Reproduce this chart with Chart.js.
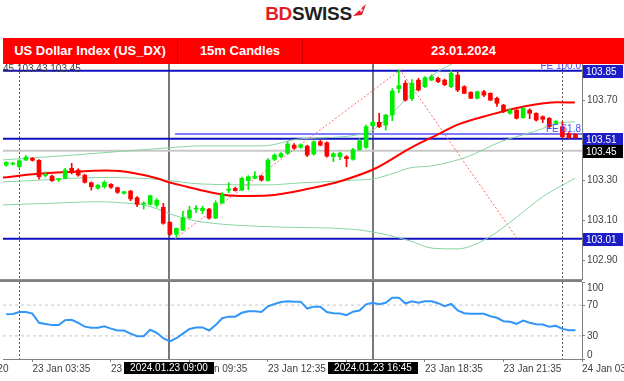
<!DOCTYPE html>
<html>
<head>
<meta charset="utf-8">
<script src="https://cdn.jsdelivr.net/npm/chart.js@4.4.1/dist/chart.umd.min.js"></script>
<style>
body { margin:0; width:624px; height:381px; background:#fff; overflow:hidden; position:relative; font-family:"Liberation Sans", Arial, sans-serif; }
#logo { position:absolute; top:3px; left:4px; width:624px; text-align:center; font-weight:bold; font-size:19px; letter-spacing:-0.3px; line-height:22px; }
#logo .bd { color:#e41e26; }
#logo .sw { color:#231f20; }
#logo svg { vertical-align:top; margin-left:1px; }
#header { position:absolute; left:3px; top:38px; width:621px; height:26px; background:#ff0000; color:#fff; font-weight:bold; font-size:13px; }
#header div { position:absolute; top:0; height:26px; line-height:26px; text-align:center; }
#c1 { left:0; width:174px; border-right:1px solid #d40000; }
#c2 { left:175px; width:124px; border-right:1px solid #d40000; }
#c3 { left:300px; width:321px; }
canvas { position:absolute; left:0; }
#main { top:64px; }
#rsi { top:280px; }
</style>
</head>
<body>
<div id="logo"><span class="bd">BD</span><span class="sw">SWISS</span><svg width="14" height="14" viewBox="0 0 14 14"><polygon points="0,13 13,1 9,12" fill="#e41e26"/><path d="M6 7h4M8 5v4" stroke="#fff" stroke-width="1.2"/></svg></div>
<div id="header">
  <div id="c1">US Dollar Index (US_DX)</div>
  <div id="c2">15m Candles</div>
  <div id="c3">23.01.2024</div>
</div>
<canvas id="main" width="624" height="216"></canvas>
<canvas id="rsi" width="624" height="101"></canvas>
<script>
// 15m candles, index 0 = first candle on the left
const candleOpen = [103.378,103.383,103.370,103.403,103.412,103.402,103.326,103.323,103.305,103.312,
  103.362,103.353,103.328,103.290,103.262,103.270,103.282,103.265,103.237,103.248,
  103.215,103.183,103.182,103.178,103.167,103.092,103.032,103.053,103.115,103.158,
  103.150,103.158,103.113,103.188,103.252,103.262,103.253,103.300,103.312,103.323,
  103.300,103.407,103.420,103.437,103.478,103.467,103.473,103.433,103.495,103.490,
  103.420,103.420,103.420,103.407,103.455,103.467,103.575,103.592,103.578,103.628,
  103.760,103.787,103.710,103.803,103.770,103.803,103.812,103.803,103.770,103.828,
  103.770,103.742,103.712,103.745,103.737,103.712,103.678,103.637,103.653,103.615,
  103.653,103.637,103.620,103.612,103.587,103.570,103.537,103.533];
const candleHigh = [103.395,103.392,103.405,103.425,103.416,103.405,103.345,103.328,103.312,103.362,
  103.387,103.360,103.332,103.294,103.280,103.300,103.286,103.268,103.247,103.252,
  103.220,103.195,103.228,103.210,103.187,103.095,103.064,103.148,103.173,103.175,
  103.172,103.162,103.200,103.240,103.290,103.268,103.318,103.325,103.345,103.328,
  103.410,103.435,103.440,103.495,103.485,103.484,103.478,103.500,103.503,103.494,
  103.440,103.443,103.425,103.462,103.510,103.578,103.600,103.637,103.632,103.760,
  103.853,103.800,103.805,103.812,103.820,103.830,103.818,103.808,103.850,103.845,
  103.775,103.745,103.748,103.752,103.740,103.718,103.682,103.658,103.656,103.666,
  103.660,103.640,103.624,103.616,103.600,103.595,103.540,103.536];
const candleLow = [103.372,103.378,103.365,103.400,103.398,103.308,103.318,103.296,103.295,103.310,
  103.334,103.322,103.288,103.253,103.258,103.262,103.262,103.236,103.233,103.200,
  103.170,103.158,103.178,103.168,103.082,103.025,103.018,103.050,103.110,103.140,
  103.135,103.108,103.110,103.185,103.240,103.248,103.250,103.255,103.310,103.298,
  103.298,103.400,103.415,103.432,103.458,103.462,103.420,103.428,103.474,103.418,
  103.395,103.405,103.370,103.403,103.452,103.462,103.570,103.565,103.553,103.600,
  103.740,103.698,103.700,103.748,103.765,103.800,103.790,103.775,103.765,103.745,
  103.735,103.710,103.708,103.720,103.700,103.672,103.640,103.633,103.608,103.612,
  103.610,103.598,103.590,103.565,103.580,103.515,103.510,103.512];
const candleClose = [103.392,103.386,103.400,103.417,103.402,103.320,103.332,103.300,103.309,103.353,
  103.340,103.328,103.292,103.270,103.278,103.292,103.267,103.242,103.245,103.209,
  103.182,103.188,103.225,103.203,103.087,103.032,103.062,103.115,103.153,103.163,
  103.162,103.113,103.188,103.230,103.258,103.250,103.312,103.320,103.323,103.303,
  103.403,103.428,103.435,103.483,103.462,103.480,103.428,103.495,103.478,103.423,
  103.435,103.438,103.410,103.455,103.500,103.570,103.592,103.570,103.628,103.748,
  103.775,103.703,103.787,103.753,103.815,103.820,103.795,103.780,103.837,103.753,
  103.737,103.712,103.745,103.728,103.703,103.687,103.645,103.653,103.612,103.662,
  103.637,103.603,103.607,103.570,103.598,103.520,103.515,103.515];

// moving average (red) and the three envelope lines (green), read at chosen candle positions
const maIdx = [-0.5,4.1,9.3,15.4,19.4,23.0,25.0,27.6,29.6,33.4,36.5,40.0,46.4,51.3,56.4,61.7,66.3,68.9,73.9,79.0,84.2,86.9];
const maValues = [103.316,103.332,103.343,103.351,103.339,103.312,103.291,103.270,103.254,103.229,103.224,103.226,103.261,103.300,103.361,103.462,103.537,103.579,103.629,103.670,103.692,103.691];
const upperIdx = [-0.5,9.3,24.6,29.6,39.2,44.9,55.1,58.7,61.7,65.2,67.8,70.9,75.5];
const upperValues = [103.404,103.426,103.464,103.474,103.474,103.509,103.539,103.628,103.729,103.829,103.879,103.944,104.000];
const middleIdx = [-0.5,4.1,14.3,19.4,24.0,29.6,39.9,44.9,54.1,56.1,59.4,61.7,65.2,70.4,75.5,80.5,84.6,86.9];
const middleValues = [103.294,103.301,103.316,103.314,103.304,103.284,103.279,103.289,103.304,103.309,103.339,103.364,103.375,103.419,103.494,103.544,103.589,103.594];
const lowerIdx = [-0.5,6.7,14.3,18.5,20.9,23.5,25.5,27.6,29.6,39.9,53.0,58.2,61.7,65.2,68.9,73.5,78.1,82.0,86.9];
const lowerValues = [103.179,103.187,103.195,103.187,103.179,103.154,103.129,103.109,103.095,103.070,103.057,103.029,102.999,102.962,102.959,103.012,103.120,103.220,103.312];

// fibonacci expansion drawing
const fibIdx = [25.8, 60.2, 78.1];
const fibValues = [103.010, 103.853, 103.010];
const fe618Level = 103.533;
const fe618Start = 25.8;

// horizontal levels
const blueLevels = [103.85, 103.51, 103.01];
const bidLevel = 103.45;
const priceTicks = [102.9, 103.1, 103.3, 103.5, 103.7];

// RSI
const rsiValues = [58,58.5,61,61,59,47,45.5,44,44,50.5,
  51,47,42,40.5,40.5,42.5,39.5,37,37,33,
  29.5,29.5,38,34,27,23,27,33,39,41,
  41,37,44,53,55,55,60,62,62,61,
  68.5,71.5,74,75,74.5,74.5,65.5,68,68,61,
  59.5,59,57,61.5,63,71,73,71,73,79.7,
  79.7,72,75,73,75,75,72.5,68.5,71.5,63,
  59.5,58.8,58.8,58.8,55.6,53.5,49.1,48.3,45.7,50,
  47,45.2,44.8,41.8,43.1,39.1,37.3,37.3];
const rsiTicks = [0, 30, 70, 100];
const rsiLevels = [30, 70];

// time axis
const timeTickIdx = [-8.5, 4, 16, 28, 40, 52, 64, 76, 88];
const timeTickLabels = ['23 Jan 00:20', '23 Jan 03:35', '23 Jan 06:35', '23 Jan 09:35', '23 Jan 12:35',
  '23 Jan 15:35', '23 Jan 18:35', '23 Jan 21:35', '24 Jan 03:35'];
const crossIdx = [24.87, 56.06];
const crossLabels = ['2024.01.23 09:00', '2024.01.23 16:45'];
const separatorIdx = [1.95, 84.95];

const xMin = -0.5;
const xMax = 88;
const priceMin = 102.8085;
const priceMax = 103.8835;

const bull = '#00ee00';
const bear = '#ff0000';
const bandColor = '#88d4a2';
const tickFont = '10px "Liberation Sans", Arial, sans-serif';

function pts(idx, vals) {
    return idx.map(function (v, i) { return { x: v, y: vals[i] }; });
}

const bodies = [];
const wicks = [];
const candleColors = [];
for (let i = 0; i < candleOpen.length; i++) {
    bodies.push({ x: i, y: [candleOpen[i], candleClose[i]] });
    wicks.push({ x: i, y: [candleLow[i], candleHigh[i]] });
    candleColors.push(candleClose[i] >= candleOpen[i] ? bull : bear);
}

function levelLine(value, from, color, width, order) {
    return {
        type: 'line',
        data: [{ x: from, y: value }, { x: xMax, y: value }],
        borderColor: color,
        borderWidth: width,
        pointRadius: 0,
        order: order
    };
}

function smoothLine(data, color, width, order) {
    return {
        type: 'line',
        data: data,
        borderColor: color,
        borderWidth: width,
        pointRadius: 0,
        cubicInterpolationMode: 'monotone',
        order: order
    };
}

// vertical lines shared by both panels
const verticalLines = {
    id: 'verticalLines',
    beforeDatasetsDraw: function (chart) {
        const ctx = chart.ctx;
        const x = chart.scales.x;
        const area = chart.chartArea;
        ctx.save();
        ctx.strokeStyle = '#606060';
        ctx.lineWidth = 1;
        ctx.setLineDash([2, 2]);
        separatorIdx.forEach(function (v) {
            const px = Math.round(x.getPixelForValue(v)) + 0.5;
            ctx.beginPath();
            ctx.moveTo(px, area.top);
            ctx.lineTo(px, area.bottom);
            ctx.stroke();
        });
        ctx.setLineDash([]);
        ctx.strokeStyle = '#787878';
        ctx.lineWidth = 2;
        crossIdx.forEach(function (v) {
            const px = Math.round(x.getPixelForValue(v));
            ctx.beginPath();
            ctx.moveTo(px, area.top);
            ctx.lineTo(px, area.bottom);
            ctx.stroke();
        });
        ctx.restore();
    }
};

const priceLabels = {
    id: 'priceLabels',
    afterDraw: function (chart) {
        const ctx = chart.ctx;
        const y = chart.scales.y;
        const area = chart.chartArea;
        ctx.save();
        ctx.font = tickFont;
        ctx.textBaseline = 'alphabetic';
        ctx.fillStyle = '#404040';
        ctx.textAlign = 'left';
        ctx.fillText('45 103.43 103.45', 3, 8);

        ctx.fillStyle = '#4a4aff';
        ctx.textAlign = 'right';
        ctx.fillText('FE 100.0', area.right - 1, y.getPixelForValue(blueLevels[0]) - 2);
        ctx.fillText('FE 61.8', area.right - 1, y.getPixelForValue(fe618Level) - 2);

        const boxes = [
            { v: blueLevels[0], bg: '#1c1cc8' },
            { v: blueLevels[1], bg: '#1c1cc8' },
            { v: bidLevel, bg: '#000000' },
            { v: blueLevels[2], bg: '#1c1cc8' }
        ];
        ctx.textBaseline = 'middle';
        ctx.textAlign = 'left';
        boxes.forEach(function (b) {
            const py = Math.round(y.getPixelForValue(b.v));
            ctx.fillStyle = b.bg;
            ctx.fillRect(area.right + 1, py - 6, 40, 13);
            ctx.fillStyle = '#ffffff';
            ctx.fillText(b.v.toFixed(2), area.right + 4, py + 1);
        });
        ctx.fillStyle = '#909090';
        ctx.fillRect(0, area.bottom, area.right, 1);
        ctx.restore();
    }
};

const rsiLabels = {
    id: 'rsiLabels',
    afterDraw: function (chart) {
        const ctx = chart.ctx;
        const y = chart.scales.y;
        const x = chart.scales.x;
        const area = chart.chartArea;
        ctx.save();
        ctx.font = tickFont;
        ctx.fillStyle = '#404040';
        ctx.textBaseline = 'middle';
        ctx.textAlign = 'left';
        rsiTicks.forEach(function (v) {
            let py = y.getPixelForValue(v);
            py = Math.min(Math.max(py, area.top + 6), area.bottom - 4);
            ctx.fillText(String(v), area.right + 5, py);
        });
        ctx.fillStyle = '#808080';
        ctx.fillRect(0, 0, area.right, 2);

        ctx.textAlign = 'center';
        crossIdx.forEach(function (v, i) {
            const px = Math.round(x.getPixelForValue(v));
            ctx.fillStyle = '#000000';
            ctx.fillRect(px - 45, area.bottom + 3, 90, 12);
            ctx.fillStyle = '#ffffff';
            ctx.fillText(crossLabels[i], px, area.bottom + 9.5);
        });
        ctx.restore();
    }
};

function xScale(showTicks) {
    return {
        type: 'linear',
        min: xMin,
        max: xMax,
        offset: false,
        display: showTicks,
        afterBuildTicks: function (scale) {
            scale.ticks = timeTickIdx.map(function (v) { return { value: v }; });
        },
        afterFit: function (scale) {
            scale.height = showTicks ? 22 : 0;
            scale.paddingLeft = 0;
            scale.paddingRight = 0;
        },
        grid: { drawOnChartArea: false, drawTicks: true, tickLength: 3, color: '#808080' },
        border: { display: true, color: '#808080' },
        ticks: {
            autoSkip: false,
            maxRotation: 0,
            align: 'start',
            padding: 1,
            color: '#404040',
            font: { family: '"Liberation Sans", Arial, sans-serif', size: 10 },
            callback: function (value, index) { return timeTickLabels[index]; }
        }
    };
}

const mainChart = new Chart(document.getElementById('main'), {
    type: 'bar',
    data: {
        datasets: [
            { data: bodies, backgroundColor: candleColors, barThickness: 4, minBarLength: 1, grouped: false, order: 0 },
            { data: wicks, backgroundColor: candleColors, barThickness: 1, minBarLength: 1, grouped: false, order: 1 },
            smoothLine(pts(maIdx, maValues), '#ff0000', 2, 2),
            smoothLine(pts(upperIdx, upperValues), bandColor, 1, 3),
            smoothLine(pts(middleIdx, middleValues), bandColor, 1, 3),
            smoothLine(pts(lowerIdx, lowerValues), bandColor, 1, 3),
            {
                type: 'line',
                data: pts(fibIdx, fibValues),
                borderColor: '#ff6a6a',
                borderWidth: 1,
                borderDash: [2, 2],
                pointRadius: 0,
                order: 4
            },
            levelLine(blueLevels[0], xMin, '#1010c0', 2, 5),
            levelLine(blueLevels[1], xMin, '#1010c0', 2, 5),
            levelLine(blueLevels[2], xMin, '#1010c0', 2, 5),
            levelLine(fe618Level, fe618Start, '#7d7dff', 2, 5),
            levelLine(bidLevel, xMin, '#c8c8c8', 2, 6)
        ]
    },
    options: {
        responsive: false,
        animation: false,
        layout: { padding: { left: 3, top: 0, right: 0, bottom: 1 }, autoPadding: false },
        plugins: { legend: { display: false }, tooltip: { enabled: false } },
        scales: {
            x: xScale(false),
            y: {
                type: 'linear',
                position: 'right',
                min: priceMin,
                max: priceMax,
                afterBuildTicks: function (scale) {
                    scale.ticks = priceTicks.map(function (v) { return { value: v }; });
                },
                afterFit: function (scale) {
                    scale.width = 42;
                    scale.paddingTop = 0;
                    scale.paddingBottom = 0;
                },
                grid: { drawOnChartArea: false, drawTicks: true, tickLength: 3, color: '#808080' },
                border: { display: true, color: '#808080' },
                ticks: {
                    padding: 2,
                    color: '#404040',
                    font: { family: '"Liberation Sans", Arial, sans-serif', size: 10 },
                    callback: function (value) { return value.toFixed(2); }
                }
            }
        }
    },
    plugins: [verticalLines, priceLabels]
});

const rsiChart = new Chart(document.getElementById('rsi'), {
    type: 'line',
    data: {
        datasets: [
            {
                data: rsiValues.map(function (v, i) { return { x: i, y: v }; }),
                borderColor: '#3096f8',
                borderWidth: 2,
                pointRadius: 0,
                order: 0
            },
            {
                data: [{ x: xMin, y: rsiLevels[0] }, { x: xMax, y: rsiLevels[0] }],
                borderColor: '#c4c4c4',
                borderWidth: 1,
                borderDash: [3, 3],
                pointRadius: 0,
                order: 1
            },
            {
                data: [{ x: xMin, y: rsiLevels[1] }, { x: xMax, y: rsiLevels[1] }],
                borderColor: '#c4c4c4',
                borderWidth: 1,
                borderDash: [3, 3],
                pointRadius: 0,
                order: 1
            }
        ]
    },
    options: {
        responsive: false,
        animation: false,
        layout: { padding: { left: 3, top: 2, right: 0, bottom: 0 }, autoPadding: false },
        plugins: { legend: { display: false }, tooltip: { enabled: false } },
        scales: {
            x: xScale(true),
            y: {
                type: 'linear',
                position: 'right',
                min: 0,
                max: 100,
                afterBuildTicks: function (scale) {
                    scale.ticks = rsiTicks.map(function (v) { return { value: v }; });
                },
                afterFit: function (scale) {
                    scale.width = 42;
                    scale.paddingTop = 0;
                    scale.paddingBottom = 0;
                },
                grid: { drawOnChartArea: false, drawTicks: true, tickLength: 3, color: '#808080' },
                border: { display: true, color: '#808080' },
                ticks: { display: false }
            }
        }
    },
    plugins: [verticalLines, rsiLabels]
});
</script>
</body>
</html>
